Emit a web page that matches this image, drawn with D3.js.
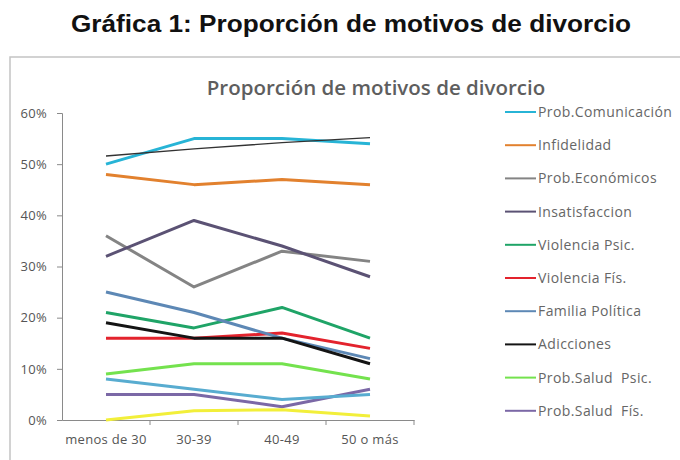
<!DOCTYPE html>
<html>
<head>
<meta charset="utf-8">
<script src="https://cdn.jsdelivr.net/npm/d3@7"></script>
<style>
  body { margin: 0; background: #fff; }
</style>
</head>
<body>
<div class="canva"></div>
<script>
// grupos de edad
const categories = ["menos de 30", "30-39", "40-49", "50 o más"];
const yTicks = [0, 10, 20, 30, 40, 50, 60];

// series (porcentaje)
const comunicacion = [50, 55, 55, 54];
const infidelidad = [48, 46, 47, 46];
const economicos = [36, 26, 33, 31];
const insatisfaccion = [32, 39, 34, 28];
const violenciaPsic = [21, 18, 22, 16];
const violenciaFis = [16, 16, 17, 14];
const familiaPolitica = [25, 21, 16, 12];
const adicciones = [19, 16, 16, 11];
const saludPsic = [9, 11, 11, 8];
const saludFis = [5, 5, 2.6, 6];
// lineas sin entrada en la leyenda
const extraAzul = [8, 6, 4, 5];
const extraAmarilla = [0, 1.8, 2, 0.8];
const extraNegra = [51.6, 53, 54.2, 55.2];

const series = [
  {name: "Prob.Comunicación", values: comunicacion, color: "#27b4d6", w: 3},
  {name: "Infidelidad", values: infidelidad, color: "#e2812e", w: 3},
  {name: "Prob.Económicos", values: economicos, color: "#848484", w: 3},
  {name: "Insatisfaccion", values: insatisfaccion, color: "#5b5274", w: 3},
  {name: "Violencia Psic.", values: violenciaPsic, color: "#1fa467", w: 3},
  {name: "Violencia Fís.", values: violenciaFis, color: "#e3232d", w: 3},
  {name: "Familia Política", values: familiaPolitica, color: "#5d88b5", w: 3},
  {name: "Adicciones", values: adicciones, color: "#141414", w: 3},
  {name: "Prob.Salud  Psic.", values: saludPsic, color: "#74e24e", w: 3},
  {name: "Prob.Salud  Fís.", values: saludFis, color: "#7b68a6", w: 3}
];
const extras = [
  {values: extraAzul, color: "#58acd0", w: 3},
  {values: extraAmarilla, color: "#f2ef3a", w: 3},
  {values: extraNegra, color: "#333", w: 1.3}
];

const svg = d3.select(".canva").append("svg")
  .attr("width", 680)
  .attr("height", 460);

svg.append("rect")
  .attr("x", 10).attr("y", 57)
  .attr("width", 690).attr("height", 420)
  .attr("fill", "none")
  .attr("stroke", "#c4c4c4")
  .attr("stroke-width", 1.5);

svg.append("text")
  .text("Gráfica 1: Proporción de motivos de divorcio")
  .attr("x", 351).attr("y", 32)
  .attr("text-anchor", "middle")
  .attr("font-family", "Liberation Sans, Arial, sans-serif")
  .attr("font-weight", "bold")
  .attr("font-size", 24)
  .attr("textLength", 560)
  .attr("lengthAdjust", "spacingAndGlyphs")
  .attr("fill", "#111");

svg.append("text")
  .text("Proporción de motivos de divorcio")
  .attr("x", 376).attr("y", 95)
  .attr("text-anchor", "middle")
  .attr("font-family", "Open Sans, sans-serif")
  .attr("font-weight", 600)
  .attr("font-size", 20.5)
  .attr("fill", "#5e5e5e");

const x = d3.scaleBand().domain(categories).range([62, 414]);
const y = d3.scaleLinear().domain([0, 60]).range([420, 113]);

const yAxis = svg.append("g")
  .attr("transform", "translate(62,0)")
  .call(d3.axisLeft(y).tickValues(yTicks).tickFormat(d => d + "%").tickSize(5).tickPadding(10));
const xAxis = svg.append("g")
  .attr("transform", "translate(0,420)")
  .call(d3.axisBottom(x).tickSize(0).tickPadding(15));

// marcas entre categorias
xAxis.selectAll(".sep")
  .data(categories)
  .enter().append("line")
  .attr("x1", d => x(d) + x.bandwidth())
  .attr("x2", d => x(d) + x.bandwidth())
  .attr("y1", 0).attr("y2", 5)
  .attr("stroke", "#8a8a8a");

svg.selectAll(".domain, .tick line").attr("stroke", "#8a8a8a");
svg.selectAll(".tick text")
  .attr("font-family", "Open Sans, sans-serif")
  .attr("font-size", 13)
  .attr("letter-spacing", 0.3)
  .attr("fill", "#555");

const line = d3.line()
  .x((d, i) => x(categories[i]) + x.bandwidth() / 2)
  .y(d => y(d));

svg.selectAll(".serie")
  .data(series.concat(extras))
  .enter().append("path")
  .attr("d", d => line(d.values))
  .attr("fill", "none")
  .attr("stroke", d => d.color)
  .attr("stroke-width", d => d.w)
  .attr("stroke-linejoin", "round");

// leyenda
const legend = svg.selectAll(".leg")
  .data(series)
  .enter().append("g")
  .attr("transform", (d, i) => "translate(505," + (112 + i * 33.2) + ")");
legend.append("line")
  .attr("x1", 0).attr("x2", 31)
  .attr("stroke", d => d.color)
  .attr("stroke-width", 2);
legend.append("text")
  .text(d => d.name)
  .attr("x", 33).attr("y", 5)
  .attr("xml:space", "preserve")
  .style("white-space", "pre")
  .attr("font-family", "Open Sans, sans-serif")
  .attr("font-size", 14)
  .attr("letter-spacing", 0.4)
  .attr("fill", "#666");
</script>
</body>
</html>
